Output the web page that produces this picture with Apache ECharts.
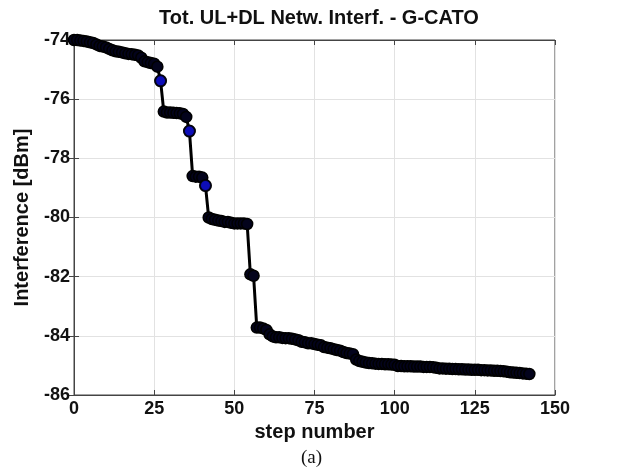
<!DOCTYPE html>
<html>
<head>
<meta charset="utf-8">
<script src="https://cdn.jsdelivr.net/npm/echarts@6/dist/echarts.min.js"></script>
<style>
  html, body { margin: 0; padding: 0; background: #fff; }
  #main { width: 618px; height: 476px; }
</style>
</head>
<body>
<div id="main"></div>
<script>
// interference per step [dBm]
const interference = [
  -74.00, -74.00, -74.02, -74.03, -74.05, -74.08, -74.10, -74.15, -74.20, -74.22,
  -74.25, -74.30, -74.35, -74.38, -74.40, -74.42, -74.45, -74.47, -74.48, -74.50,
  -74.52, -74.60, -74.72, -74.75, -74.78, -74.80, -74.90, -75.38, -76.42, -76.45,
  -76.45, -76.46, -76.47, -76.48, -76.50, -76.60, -77.08, -78.60, -78.62, -78.62,
  -78.65, -78.92, -80.00, -80.05, -80.08, -80.10, -80.12, -80.15, -80.15, -80.18,
  -80.20, -80.20, -80.20, -80.20, -80.22, -81.92, -81.97, -83.72, -83.72, -83.75,
  -83.80, -83.95, -84.02, -84.05, -84.05, -84.07, -84.08, -84.08, -84.10, -84.12,
  -84.15, -84.20, -84.22, -84.25, -84.25, -84.28, -84.30, -84.32, -84.38, -84.40,
  -84.42, -84.45, -84.48, -84.50, -84.55, -84.58, -84.60, -84.62, -84.80, -84.85,
  -84.88, -84.90, -84.92, -84.93, -84.94, -84.95, -84.95, -84.96, -84.96, -84.97,
  -84.98, -85.02, -85.02, -85.03, -85.03, -85.03, -85.04, -85.04, -85.04, -85.05,
  -85.05, -85.05, -85.06, -85.08, -85.10, -85.10, -85.11, -85.11, -85.12, -85.12,
  -85.13, -85.13, -85.14, -85.14, -85.15, -85.15, -85.15, -85.16, -85.16, -85.17,
  -85.17, -85.18, -85.18, -85.19, -85.20, -85.21, -85.23, -85.24, -85.25, -85.26,
  -85.27, -85.28, -85.29
];
// steps whose marker stands alone (blue face visible)
const highlightSteps = [27, 36, 41];
const xTicks = [0, 25, 50, 75, 100, 125, 150];
const yTicks = [-86, -84, -82, -80, -78, -76, -74];

const steps = interference.map((v, i) => i);
const lineData = interference.map((v, i) => [steps[i], v]);
const blueData = highlightSteps.map(s => [s, interference[s]]);

const font = 'Liberation Sans, Arial, sans-serif';
const frameColor = '#444';

const myChart = echarts.init(document.getElementById('main'));

const option = {
  backgroundColor: '#fff',
  animation: false,
  title: {
    text: 'Tot. UL+DL Netw. Interf. - G-CATO',
    left: 314,
    top: 3,
    textAlign: 'center',
    textStyle: { fontFamily: font, fontSize: 20, fontWeight: 'bold', color: '#111' }
  },
  grid: { left: 74, right: 63, top: 40, bottom: 81, show: true, borderColor: frameColor, borderWidth: 1 },
  xAxis: [{
    type: 'value',
    min: xTicks[0],
    max: xTicks[xTicks.length - 1],
    interval: 25,
    name: 'step number',
    nameLocation: 'middle',
    nameGap: 27,
    nameTextStyle: { fontFamily: font, fontSize: 20, fontWeight: 'bold', color: '#111' },
    axisLine: { show: true, lineStyle: { color: frameColor, width: 1 } },
    axisTick: { show: true, inside: true, length: 5, lineStyle: { color: frameColor } },
    axisLabel: { fontFamily: font, fontSize: 18, fontWeight: 'bold', color: '#111', margin: 5 },
    splitLine: { show: true, lineStyle: { color: '#e2e2e2', width: 1 } }
  }, {
    type: 'value',
    position: 'top',
    min: xTicks[0],
    max: xTicks[xTicks.length - 1],
    interval: 25,
    axisLine: { show: true, lineStyle: { color: frameColor, width: 1 } },
    axisTick: { show: true, inside: true, length: 5, lineStyle: { color: frameColor } },
    axisLabel: { show: false },
    splitLine: { show: false }
  }],
  yAxis: [{
    type: 'value',
    min: yTicks[0],
    max: yTicks[yTicks.length - 1],
    interval: 2,
    name: 'Interference [dBm]',
    nameLocation: 'middle',
    nameGap: 42,
    nameTextStyle: { fontFamily: font, fontSize: 20, fontWeight: 'bold', color: '#111' },
    axisLine: { show: true, lineStyle: { color: frameColor, width: 1 } },
    axisTick: { show: true, inside: true, length: 5, lineStyle: { color: frameColor } },
    axisLabel: { fontFamily: font, fontSize: 18, fontWeight: 'bold', color: '#111', margin: 4 },
    splitLine: { show: true, lineStyle: { color: '#e2e2e2', width: 1 } }
  }, {
    type: 'value',
    position: 'right',
    min: yTicks[0],
    max: yTicks[yTicks.length - 1],
    interval: 2,
    axisLine: { show: true, lineStyle: { color: frameColor, width: 1 } },
    axisTick: { show: true, inside: true, length: 5, lineStyle: { color: frameColor } },
    axisLabel: { show: false },
    splitLine: { show: false }
  }],
  series: [{
    type: 'line',
    data: lineData,
    symbol: 'circle',
    symbolSize: 11,
    showAllSymbol: true,
    lineStyle: { color: '#000', width: 3 },
    itemStyle: { color: '#03031c', borderColor: '#000', borderWidth: 1.5 },
    z: 2
  }, {
    type: 'scatter',
    data: blueData,
    symbol: 'circle',
    symbolSize: 11,
    itemStyle: { color: '#1010e0', borderColor: '#000', borderWidth: 2 },
    z: 3
  }],
  graphic: [{
    type: 'text',
    left: 301,
    top: 449,
    style: { text: '(a)', fontFamily: 'Liberation Serif, Times New Roman, serif', fontSize: 19, fill: '#111' }
  }]
};

myChart.setOption(option);
</script>
</body>
</html>
